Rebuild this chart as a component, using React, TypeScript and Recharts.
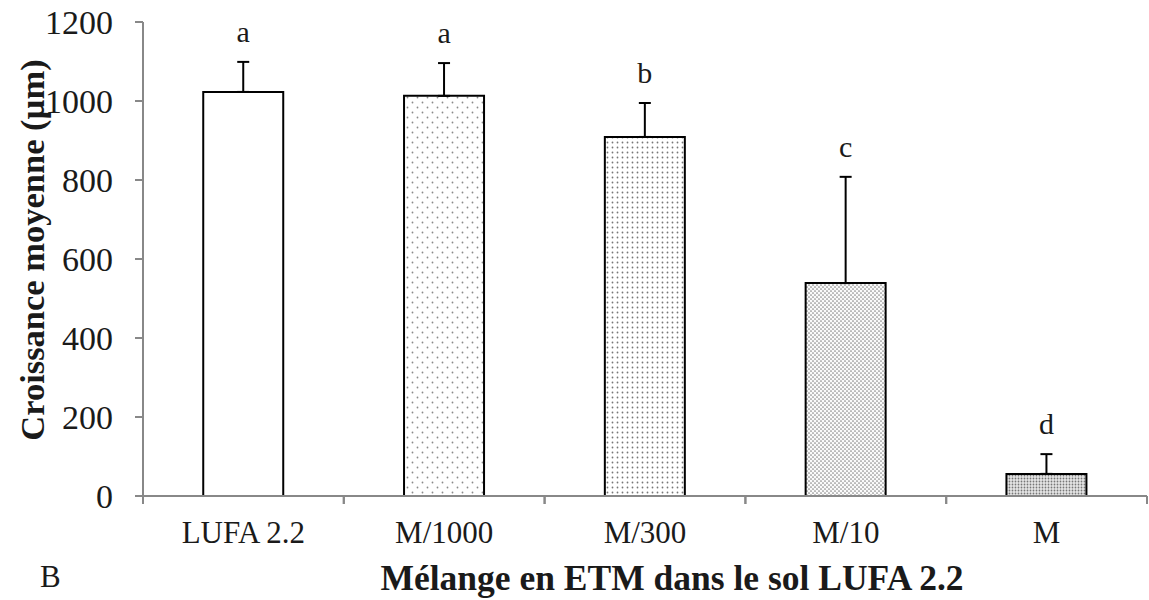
import React from "react";
import {
  Bar,
  BarChart,
  Cell,
  ErrorBar,
  Label,
  LabelList,
  XAxis,
  YAxis,
} from "recharts";

const categories = ["LUFA 2.2", "M/1000", "M/300", "M/10", "M"];
const means = [1023, 1013, 909, 539, 56];
const errors = [76, 83, 86, 269, 50];
const letters = ["a", "a", "b", "c", "d"];
const yTicks = [0, 200, 400, 600, 800, 1000, 1200];
const fills = ["#ffffff", "url(#dots1)", "url(#dots2)", "url(#dots3)", "url(#dots4)"];

const W = 1149;
const H = 600;
const margin = { top: 22, right: 2, bottom: 74, left: 83 };
const yAxisWidth = 60;
const band = (W - margin.left - yAxisWidth - margin.right) / categories.length;
const serif = "'Liberation Serif', 'Times New Roman', serif";

const data = categories.map((name, i) => ({
  name,
  mean: means[i],
  err: [0, errors[i]],
  letter: letters[i],
}));

// category labels in the middle, tick marks on the boundaries between bars
const XTick = (props: any) => {
  const { x, y, payload } = props;
  const axisY = y - 25;
  return (
    <g>
      <line x1={x - band / 2} x2={x - band / 2} y1={axisY} y2={axisY + 8} stroke="#888" strokeWidth={2} />
      <line x1={x + band / 2} x2={x + band / 2} y1={axisY} y2={axisY + 8} stroke="#888" strokeWidth={2} />
      <text x={x} y={y} dy="0.71em" textAnchor="middle" fontSize={31} fontFamily={serif} fill="#1a1a1a">
        {payload.value}
      </text>
    </g>
  );
};

const renderLetter = (props: any) => {
  const vb = props.viewBox ?? props;
  const i = props.index;
  const top = vb.y - (errors[i] * vb.height) / means[i];
  return (
    <text
      x={vb.x + vb.width / 2}
      y={top - 20}
      textAnchor="middle"
      fontSize={30}
      fontFamily={serif}
      fill="#1a1a1a"
    >
      {props.value}
    </text>
  );
};

const App = () => {
  return (
    <div style={{ position: "absolute", left: 0, top: 0, width: W, height: H, background: "#fff" }}>
      <BarChart width={W} height={H} data={data} margin={margin} barCategoryGap="30%">
        <defs>
          <pattern id="dots1" width="10" height="10" patternUnits="userSpaceOnUse">
            <rect width="10" height="10" fill="#fff" />
            <circle cx="2.5" cy="2.5" r="0.9" fill="#8a8a8a" />
            <circle cx="7.5" cy="7.5" r="0.9" fill="#8a8a8a" />
          </pattern>
          <pattern id="dots2" width="5" height="5" patternUnits="userSpaceOnUse">
            <rect width="5" height="5" fill="#fff" />
            <circle cx="2.5" cy="2.5" r="0.9" fill="#777" />
          </pattern>
          <pattern id="dots3" width="4" height="4" patternUnits="userSpaceOnUse">
            <rect width="4" height="4" fill="#fafafa" />
            <circle cx="1" cy="1" r="0.85" fill="#888" />
            <circle cx="3" cy="3" r="0.85" fill="#888" />
          </pattern>
          <pattern id="dots4" width="3" height="3" patternUnits="userSpaceOnUse">
            <rect width="3" height="3" fill="#e6e6e6" />
            <circle cx="1.5" cy="1.5" r="0.9" fill="#777" />
          </pattern>
        </defs>
        <XAxis
          dataKey="name"
          height={30}
          tickLine={false}
          tickSize={8}
          tickMargin={17}
          axisLine={{ stroke: "#888", strokeWidth: 2 }}
          tick={<XTick />}
          interval={0}
        >
          <Label
            content={() => (
              <text x={672} y={590} textAnchor="middle" fontSize={35.5} fontWeight="bold" fontFamily={serif} fill="#1a1a1a">
                Mélange en ETM dans le sol LUFA 2.2
              </text>
            )}
          />
        </XAxis>
        <YAxis
          width={yAxisWidth}
          domain={[0, 1200]}
          ticks={yTicks}
          interval={0}
          tickSize={8}
          tickMargin={22}
          tickLine={{ stroke: "#888", strokeWidth: 2 }}
          axisLine={{ stroke: "#888", strokeWidth: 2 }}
          tick={{ fontSize: 34, fontFamily: serif, fill: "#1a1a1a" }}
        >
          <Label
            content={() => (
              <text
                x={32}
                y={250}
                transform="rotate(-90, 32, 250)"
                textAnchor="middle"
                dominantBaseline="central"
                fontSize={34.5}
                fontWeight="bold"
                fontFamily={serif}
                fill="#1a1a1a"
              >
                Croissance moyenne (µm)
              </text>
            )}
          />
        </YAxis>
        <Bar dataKey="mean" stroke="#000" strokeWidth={2} isAnimationActive={false}>
          {data.map((d, i) => (
            <Cell key={d.name} fill={fills[i]} />
          ))}
          <ErrorBar dataKey="err" direction="y" width={6} stroke="#000" strokeWidth={2} isAnimationActive={false} />
          <LabelList dataKey="letter" content={renderLetter} />
        </Bar>
      </BarChart>
      <div
        style={{
          position: "absolute",
          left: 40,
          top: 560,
          fontFamily: serif,
          fontSize: 31,
          color: "#1a1a1a",
          lineHeight: "34px",
        }}
      >
        B
      </div>
    </div>
  );
};

export default App;
